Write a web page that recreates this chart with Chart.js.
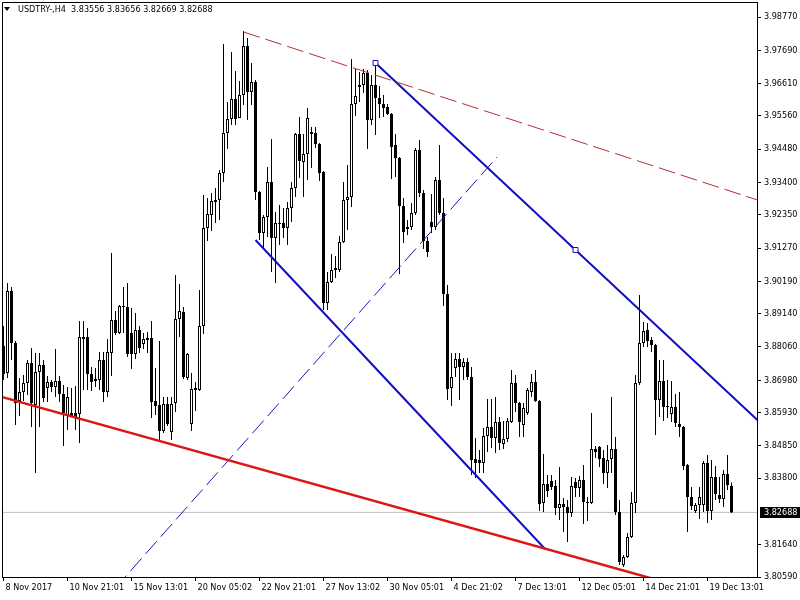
<!DOCTYPE html>
<html>
<head>
<meta charset="utf-8">
<title>USDTRY-,H4</title>
<script src="https://cdn.jsdelivr.net/npm/chart.js@4.4.1/dist/chart.umd.min.js"></script>
<style>
  body { margin: 0; background: #fff; }
  #wrap { position: relative; width: 800px; height: 600px; }
  #title {
    position: absolute; left: 18px; top: 4px;
    font: 9px "DejaVu Sans Condensed", "Liberation Sans", sans-serif;
    line-height: 11px; color: #000; white-space: pre;
  }
  #tri {
    position: absolute; left: 4px; top: 7px; width: 0; height: 0;
    border-left: 3px solid transparent; border-right: 3px solid transparent;
    border-top: 4px solid #000;
  }
</style>
</head>
<body>
<div id="wrap">
  <canvas id="chart" width="800" height="600"></canvas>
  <div id="tri"></div>
  <div id="title">USDTRY-,H4  3.83556 3.83656 3.82669 3.82688</div>
</div>
<script>
// one label every 16 bars on the time axis
const timeLabels = ["8 Nov 2017", "10 Nov 21:01", "15 Nov 13:01", "20 Nov 05:02", "22 Nov 21:01", "27 Nov 13:02",
  "30 Nov 05:01", "4 Dec 21:02", "7 Dec 13:01", "12 Dec 05:01", "14 Dec 21:01", "19 Dec 13:01"];
const barsPerLabel = 16;

const priceTicks = [3.98770, 3.97690, 3.96610, 3.95560, 3.94480, 3.93400, 3.92350, 3.91270, 3.90190,
  3.89140, 3.88060, 3.86980, 3.85930, 3.84850, 3.83800, 3.81640, 3.80590];

const opens = [
  3.88089, 3.87213, 3.89875, 3.88187, 3.86304, 3.86596, 3.86888, 3.87538, 3.86174, 3.87245,
  3.87473, 3.86725, 3.86920, 3.86758, 3.86953, 3.86531, 3.85849, 3.85914, 3.85914, 3.85881,
  3.88382, 3.88382, 3.87180, 3.86953, 3.86985, 3.87635, 3.86596, 3.87862, 3.88933, 3.88512,
  3.89356, 3.89356, 3.88512, 3.87829, 3.88609, 3.88154, 3.88349, 3.88349, 3.86304, 3.86174,
  3.85330, 3.86206, 3.85297, 3.86239, 3.88966, 3.89193, 3.87050, 3.85557, 3.86661, 3.86661,
  3.88738, 3.91920, 3.92342, 3.92764, 3.92829, 3.93706, 3.95004, 3.95459, 3.96108, 3.95491,
  3.96238, 3.97828, 3.96335, 3.96660, 3.93089, 3.91758, 3.92277, 3.93413, 3.91595, 3.92050,
  3.92083, 3.91920, 3.92569, 3.93218, 3.94971, 3.94063, 3.94322, 3.95036, 3.95004, 3.94647,
  3.93738, 3.89486, 3.90167, 3.90556, 3.90556, 3.91465, 3.92829, 3.92927, 3.95945, 3.96498,
  3.96563, 3.96952, 3.95426, 3.96563, 3.96140, 3.95945, 3.95848, 3.95621, 3.94615, 3.94192,
  3.92634, 3.91888, 3.91953, 3.92407, 3.94452, 3.93057, 3.91498, 3.92115, 3.91953, 3.93478,
  3.92407, 3.89777, 3.86725, 3.87375, 3.87667, 3.87408, 3.87570, 3.87083, 3.84421, 3.84388,
  3.84291, 3.85167, 3.85460, 3.85102, 3.85622, 3.84908, 3.85070, 3.85622, 3.86888, 3.86239,
  3.85525, 3.85914, 3.86596, 3.86920, 3.86304, 3.82993, 3.83609, 3.83707, 3.83544, 3.82830,
  3.82960, 3.82863, 3.82668, 3.83674, 3.83479, 3.83739, 3.83025, 3.82993, 3.84746, 3.84811,
  3.84453, 3.83967, 3.84421, 3.84746, 3.82700, 3.80980, 3.81240, 3.81889, 3.82993, 3.86888,
  3.88187, 3.88609, 3.88284, 3.88122, 3.86336, 3.86953, 3.86141, 3.85881, 3.86109, 3.85557,
  3.85460, 3.84226, 3.83187, 3.82733, 3.82928, 3.82928, 3.84291, 3.82733, 3.83837, 3.83252,
  3.83122, 3.83934, 3.83556
];
const highs = [
  3.88738, 3.90135, 3.90005, 3.88252, 3.87050, 3.87148, 3.87635, 3.88024, 3.87862, 3.87862,
  3.87635, 3.87115, 3.86985, 3.87992, 3.87115, 3.86823, 3.86758, 3.86725, 3.86790, 3.88901,
  3.88901, 3.88673, 3.87408, 3.87375, 3.87894, 3.87894, 3.88317, 3.91109, 3.89226, 3.89421,
  3.90005, 3.90135, 3.89323, 3.89161, 3.88738, 3.88512, 3.88544, 3.88901, 3.87375, 3.88252,
  3.86434, 3.86434, 3.86434, 3.90394, 3.90102, 3.89356, 3.87862, 3.87213, 3.86920, 3.89907,
  3.92992, 3.92894, 3.93057, 3.93218, 3.93803, 3.97893, 3.96010, 3.97633, 3.97017, 3.96693,
  3.98316, 3.98088, 3.97277, 3.96725, 3.93122, 3.92342, 3.93901, 3.94809, 3.92439, 3.92667,
  3.92569, 3.92764, 3.93413, 3.95004, 3.95524, 3.94971, 3.95815, 3.95199, 3.95199, 3.94680,
  3.93771, 3.90491, 3.91076, 3.91011, 3.91660, 3.93413, 3.93966, 3.97406, 3.97082, 3.96984,
  3.97082, 3.97049, 3.96887, 3.97212, 3.96530, 3.96238, 3.95945, 3.95654, 3.94971, 3.94225,
  3.92894, 3.92180, 3.92732, 3.94517, 3.94777, 3.93154, 3.91628, 3.93024, 3.93576, 3.94615,
  3.92894, 3.90070, 3.87862, 3.87862, 3.87862, 3.87699, 3.87699, 3.87408, 3.85102, 3.84713,
  3.85427, 3.86369, 3.86369, 3.86434, 3.85784, 3.85655, 3.85751, 3.87310, 3.87148, 3.86271,
  3.86239, 3.86725, 3.87180, 3.87310, 3.86336, 3.84583, 3.83902, 3.83902, 3.83739, 3.84161,
  3.83154, 3.83090, 3.83837, 3.83804, 3.83869, 3.84226, 3.83187, 3.85914, 3.84843, 3.84843,
  3.84713, 3.84876, 3.86434, 3.85135, 3.83090, 3.81305, 3.82019, 3.83349, 3.87148, 3.89745,
  3.88868, 3.88836, 3.88382, 3.88154, 3.87635, 3.87635, 3.86985, 3.86953, 3.86531, 3.86596,
  3.85492, 3.84258, 3.83512, 3.82993, 3.83512, 3.84356, 3.84551, 3.84388, 3.84193, 3.83837,
  3.84064, 3.84551, 3.83656
];
const lows = [
  3.86985, 3.87050, 3.87635, 3.85525, 3.85816, 3.86304, 3.86499, 3.85460, 3.83967, 3.85460,
  3.86271, 3.86271, 3.86596, 3.86434, 3.86271, 3.84843, 3.85362, 3.85784, 3.85362, 3.84941,
  3.86661, 3.86661, 3.86629, 3.86758, 3.86661, 3.86271, 3.86434, 3.87115, 3.88447, 3.88479,
  3.88512, 3.87732, 3.87343, 3.87667, 3.87862, 3.87992, 3.87862, 3.85751, 3.85849, 3.85038,
  3.85265, 3.85492, 3.85038, 3.85946, 3.88382, 3.87018, 3.86985, 3.85330, 3.85979, 3.86629,
  3.88479, 3.91498, 3.91823, 3.92083, 3.92180, 3.93413, 3.94485, 3.95264, 3.95264, 3.95491,
  3.95913, 3.95426, 3.95913, 3.92829, 3.91530, 3.91270, 3.91628, 3.90491, 3.90135, 3.91368,
  3.91595, 3.91368, 3.92115, 3.92927, 3.93543, 3.92927, 3.93478, 3.93868, 3.94517, 3.93446,
  3.89258, 3.89258, 3.90135, 3.90296, 3.90491, 3.91433, 3.91855, 3.92602, 3.95556, 3.96010,
  3.96303, 3.94485, 3.95264, 3.94939, 3.95491, 3.95524, 3.95589, 3.93511, 3.93576, 3.90426,
  3.91433, 3.91693, 3.91855, 3.92342, 3.92927, 3.91238, 3.90979, 3.91758, 3.91855, 3.92342,
  3.89388, 3.86336, 3.86141, 3.87083, 3.86336, 3.86985, 3.86985, 3.83902, 3.83804, 3.83967,
  3.83967, 3.84648, 3.84778, 3.84616, 3.84713, 3.84746, 3.84973, 3.85590, 3.85946, 3.85135,
  3.85135, 3.85849, 3.86434, 3.86271, 3.82733, 3.82700, 3.83187, 3.83414, 3.82603, 3.82441,
  3.82051, 3.81726, 3.82538, 3.83187, 3.83187, 3.82311, 3.82409, 3.82960, 3.84453, 3.84161,
  3.83609, 3.83479, 3.83967, 3.82603, 3.80980, 3.80915, 3.81207, 3.81856, 3.82668, 3.86823,
  3.88057, 3.88057, 3.87894, 3.85200, 3.85784, 3.85655, 3.85751, 3.85622, 3.85460, 3.85135,
  3.84064, 3.82051, 3.82765, 3.82668, 3.82473, 3.82700, 3.82344, 3.82441, 3.83090, 3.82993,
  3.82863, 3.83414, 3.82669
];
const closes = [
  3.87180, 3.89875, 3.88187, 3.86239, 3.86596, 3.86888, 3.87538, 3.86239, 3.87245, 3.87473,
  3.86401, 3.86920, 3.86758, 3.86953, 3.86531, 3.85914, 3.86434, 3.85816, 3.85784, 3.88382,
  3.88317, 3.87180, 3.86920, 3.87018, 3.87635, 3.86596, 3.87894, 3.88933, 3.88512, 3.89388,
  3.89388, 3.87829, 3.87829, 3.88609, 3.88024, 3.88317, 3.88284, 3.86271, 3.86141, 3.85330,
  3.86206, 3.85557, 3.86206, 3.88966, 3.89226, 3.87083, 3.87829, 3.86693, 3.86725, 3.88738,
  3.91920, 3.92374, 3.92797, 3.92829, 3.93706, 3.95004, 3.95459, 3.96108, 3.95459, 3.96238,
  3.97828, 3.96335, 3.96660, 3.93089, 3.91758, 3.92277, 3.93413, 3.91595, 3.92083, 3.92083,
  3.91920, 3.92569, 3.93218, 3.94971, 3.94096, 3.94322, 3.95491, 3.94971, 3.94647, 3.93706,
  3.89486, 3.90167, 3.90556, 3.90621, 3.91465, 3.92829, 3.92927, 3.95945, 3.96205, 3.96563,
  3.96952, 3.95426, 3.96563, 3.96140, 3.95945, 3.95815, 3.95621, 3.94550, 3.94192, 3.92634,
  3.91790, 3.91953, 3.92407, 3.94452, 3.93057, 3.91498, 3.91141, 3.91953, 3.93478, 3.92407,
  3.89777, 3.86693, 3.87083, 3.87667, 3.87408, 3.87570, 3.87083, 3.84388, 3.84291, 3.84291,
  3.85167, 3.85460, 3.85102, 3.85622, 3.84941, 3.85070, 3.85655, 3.86888, 3.86239, 3.85622,
  3.86076, 3.86661, 3.86920, 3.86304, 3.82960, 3.83609, 3.83382, 3.83512, 3.82830, 3.82960,
  3.82863, 3.82668, 3.83544, 3.83479, 3.83739, 3.83025, 3.82993, 3.84746, 3.84648, 3.84421,
  3.83967, 3.84388, 3.84746, 3.82700, 3.81077, 3.81240, 3.81889, 3.82993, 3.86888, 3.88187,
  3.88577, 3.88252, 3.88122, 3.86336, 3.86953, 3.86109, 3.86109, 3.86109, 3.85590, 3.85460,
  3.84193, 3.83187, 3.82895, 3.82928, 3.83187, 3.84291, 3.82733, 3.83837, 3.83284, 3.83122,
  3.83934, 3.83577, 3.82688
];
const lastPrice = 3.82688;

// drawn objects: [bar index, price]
const redTrend = [[-5, 3.86602], [170, 3.80256]];
const redDashed = [[60, 3.98283], [195, 3.92553]];
const blueUpper = [[93, 3.97277], [143, 3.91206], [195, 3.84891]];
const blueLower = [[63, 3.91530], [135.4, 3.81499]];
const blueDashed = [[27.9, 3.80223], [123.4, 3.94225]];

const FONT = '"DejaVu Sans Condensed", "Liberation Sans", sans-serif';

const toXY = (pts) => pts.map(([x, y]) => ({ x, y }));

const bodies = opens.map((o, i) => ({ x: i, y: [o, closes[i]] }));
const wicks = highs.map((h, i) => ({ x: i, y: [lows[i], h] }));
const bodyColors = opens.map((o, i) => (closes[i] >= o ? "#ffffff" : "#000000"));

const lineSet = (pts, color, width, dash) => ({
  type: "line",
  data: toXY(pts),
  borderColor: color,
  borderWidth: width,
  borderDash: dash || [],
  pointRadius: 0,
  tension: 0,
  order: 0,
});

const frame = {
  id: "frame",
  afterDraw(chart) {
    const { ctx, chartArea } = chart;
    const { left, top, right } = chartArea;
    ctx.save();
    ctx.strokeStyle = "#000";
    ctx.lineWidth = 1;
    ctx.beginPath();
    ctx.moveTo(left + 0.5, chartArea.bottom);
    ctx.lineTo(left + 0.5, top + 0.5);
    ctx.lineTo(right, top + 0.5);
    ctx.stroke();

    // current price tag on the price axis
    const y = Math.round(chart.scales.y.getPixelForValue(lastPrice));
    ctx.fillStyle = "#000";
    ctx.fillRect(right + 3, y - 5, 800 - right - 3, 11);
    ctx.fillStyle = "#fff";
    ctx.font = "9px " + FONT;
    ctx.textBaseline = "middle";
    ctx.fillText(lastPrice.toFixed(5), right + 7, y + 0.5);
    ctx.restore();
  },
};

new Chart(document.getElementById("chart"), {
  type: "bar",
  data: {
    datasets: [
      lineSet(redTrend, "#dd1515", 2.5),
      lineSet(redDashed, "#b03030", 1, [17, 6]),
      {
        ...lineSet(blueUpper, "#1010c0", 2),
        pointRadius: [3.5, 3.5, 0],
        pointStyle: "rect",
        pointBackgroundColor: "#ffffff",
        pointBorderColor: "#1010c0",
        pointBorderWidth: 1,
      },
      lineSet(blueLower, "#1010c0", 2),
      lineSet(blueDashed, "#1a1ab0", 1, [17, 6]),
      {
        type: "bar",
        data: bodies,
        backgroundColor: bodyColors,
        borderColor: "#000",
        borderWidth: 1,
        borderSkipped: false,
        barThickness: 3,
        inflateAmount: 0,
        stack: "c",
        order: 1,
      },
      {
        type: "bar",
        data: wicks,
        backgroundColor: "#000",
        borderWidth: 0,
        barThickness: 1,
        inflateAmount: 0,
        stack: "c",
        order: 2,
      },
      {
        ...lineSet([[-5, lastPrice], [200, lastPrice]], "#c0c0c0", 1),
        order: 3,
      },
    ],
  },
  options: {
    responsive: false,
    animation: false,
    devicePixelRatio: 1,
    events: [],
    layout: { autoPadding: false, padding: { left: 2, top: 2, right: 0, bottom: 0 } },
    plugins: { legend: { display: false }, tooltip: { enabled: false } },
    scales: {
      x: {
        type: "linear",
        offset: false,
        min: -0.375,
        max: 188.375,
        afterBuildTicks: (scale) => {
          scale.ticks = timeLabels.map((_, k) => ({ value: k * barsPerLabel }));
        },
        afterFit: (scale) => {
          scale.height = 23;
          scale.paddingLeft = 0;
          scale.paddingRight = 0;
        },
        grid: { offset: false, drawOnChartArea: false, drawTicks: true, tickLength: 4, color: "#000" },
        border: { display: true, color: "#000" },
        ticks: {
          autoSkip: false,
          maxRotation: 0,
          align: "start",
          labelOffset: 2,
          padding: 1,
          color: "#000",
          font: { family: FONT, size: 9 },
          callback: (v) => timeLabels[Math.round(v / barsPerLabel)],
        },
      },
      y: {
        type: "linear",
        position: "right",
        stacked: false,
        min: 3.80590,
        max: 3.99257,
        afterBuildTicks: (scale) => {
          scale.ticks = priceTicks.map((v) => ({ value: v }));
        },
        afterFit: (scale) => {
          scale.width = 43;
          scale.paddingTop = 0;
          scale.paddingBottom = 0;
        },
        grid: { drawOnChartArea: false, drawTicks: true, tickLength: 4, color: "#000" },
        border: { display: true, color: "#000" },
        ticks: {
          autoSkip: false,
          padding: 3,
          color: "#000",
          font: { family: FONT, size: 9 },
          callback: (v) => Number(v).toFixed(5),
        },
      },
    },
  },
  plugins: [frame],
});
</script>
</body>
</html>
